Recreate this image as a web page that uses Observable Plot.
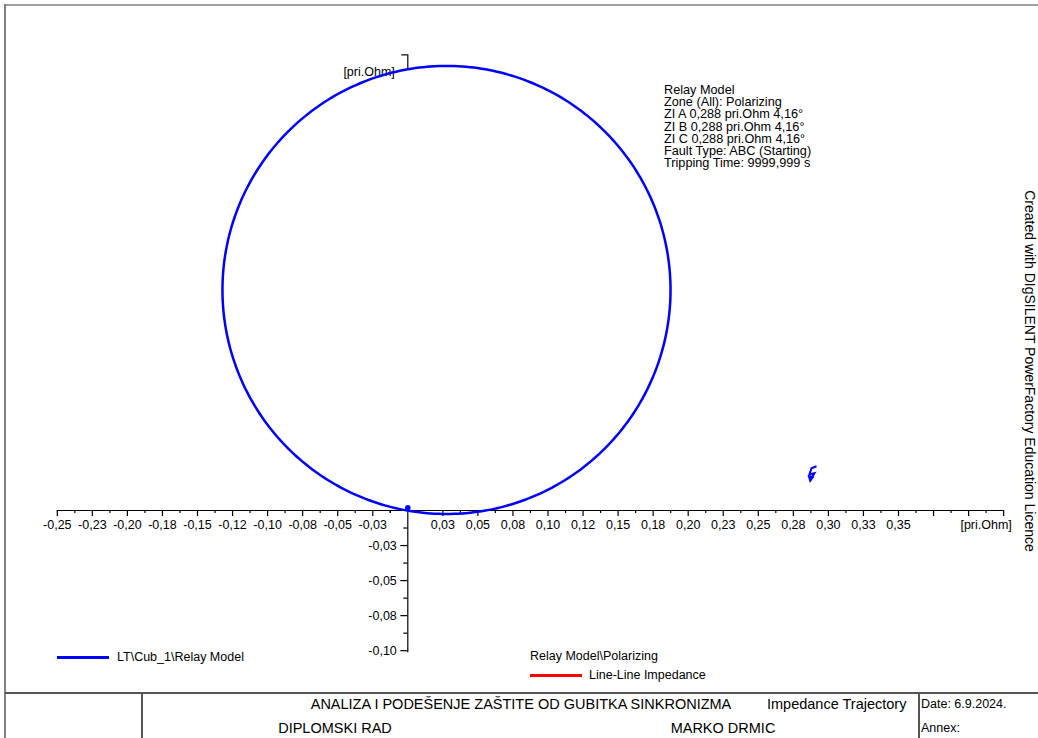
<!DOCTYPE html>
<html>
<head>
<meta charset="utf-8">
<script src="https://cdn.jsdelivr.net/npm/d3@7"></script>
<script src="https://cdn.jsdelivr.net/npm/@observablehq/plot@0.6"></script>
<style>
  html, body { margin: 0; padding: 0; background: #fff; }
  #root { position: relative; width: 1038px; height: 738px; overflow: hidden; font-family: "Liberation Sans", Arial, sans-serif; color: #000; }
  #root svg { position: absolute; left: 0; top: 0; }
  .t { position: absolute; white-space: nowrap; line-height: 16px; }
  .ln { position: absolute; }
</style>
</head>
<body>
<div id="root"></div>
<script>
// ---------- data ----------
// Mho (polarizing) characteristic: centre and radius, in pri.Ohm (R, X)
const mhoCenterR = 0.0276;
const mhoCenterX = 0.1573;
const mhoRadius = 0.1598;
// Measured impedance ZI (magnitude in pri.Ohm, angle in degrees)
const ziMagnitude = 0.288;
const ziAngleDeg = 4.16;
// Trajectory start point near the origin
const trajR = [0.0];
const trajX = [0.002];
// Axis ticks
const xTickValues = [-0.25,-0.225,-0.2,-0.175,-0.15,-0.125,-0.1,-0.075,-0.05,-0.025,
                     0.025,0.05,0.075,0.1,0.125,0.15,0.175,0.2,0.225,0.25,0.275,0.3,0.325,0.35];
const xTickLabels = ["-0,25","-0,23","-0,20","-0,18","-0,15","-0,12","-0,10","-0,08","-0,05","-0,03",
                     "0,03","0,05","0,08","0,10","0,12","0,15","0,18","0,20","0,23","0,25","0,28","0,30","0,33","0,35"];
const xExtraMajor = [0.375, 0.4, 0.425];
const yTickValues = [-0.025, -0.05, -0.075, -0.1];
const yTickLabels = ["-0,03", "-0,05", "-0,08", "-0,10"];
const xAxisExtent = [-0.25, 0.425];
const yAxisExtent = [-0.1, 0];
const yAxisTop = 0.325;
const infoLines = ["Relay Model", "Zone (All): Polarizing", "ZI A 0,288 pri.Ohm 4,16°",
  "ZI B 0,288 pri.Ohm 4,16°", "ZI C 0,288 pri.Ohm 4,16°", "Fault Type: ABC (Starting)", "Tripping Time: 9999,999 s"];
const legendRelay = "LT\\Cub_1\\Relay Model";
const legendTitle = "Relay Model\\Polarizing";
const legendLL = "Line-Line Impedance";
const unitLabel = "[pri.Ohm]";

// ---------- derived ----------
const PX = 1402;            // pixels per pri.Ohm (equal aspect)
const W = 1038, H = 738;
const originX = 407.3, originY = 510;
const xDomain = [-originX / PX, (W - originX) / PX];
const yDomain = [-(H - originY) / PX, originY / PX];

const circle = d3.range(0, 361).map(a => {
  const t = a * Math.PI / 180;
  return {x: mhoCenterR + mhoRadius * Math.cos(t), y: mhoCenterX + mhoRadius * Math.sin(t)};
});
const zi = [{x: ziMagnitude * Math.cos(ziAngleDeg * Math.PI / 180), y: ziMagnitude * Math.sin(ziAngleDeg * Math.PI / 180)}];
const traj = trajR.map((r, i) => ({x: r, y: trajX[i]}));

const xMajor = xTickValues.concat(xExtraMajor);
const xMinor = xMajor.filter(v => v < 0.42).map(v => v + 0.0125).concat([-0.0125]);
const yMinor = yTickValues.map(v => v + 0.0125);

const xTicks = xTickValues.map((v, i) => ({v, label: xTickLabels[i]}));
const yTicks = yTickValues.map((v, i) => ({v, label: yTickLabels[i]}));

const boltSymbol = {
  draw(c) { c.moveTo(6, -15); c.lineTo(1, -13); c.lineTo(-1, -7); c.lineTo(4, -8); c.lineTo(1.5, -4); }
};
const headSymbol = {
  draw(c) { c.moveTo(-2.5, -6); c.lineTo(3.5, -4.5); c.lineTo(-0.5, 1); c.closePath(); }
};

const blue = "#0000ff";
const chart = Plot.plot({
  width: W, height: H,
  margin: 0,
  x: {domain: xDomain, axis: null},
  y: {domain: yDomain, axis: null},
  style: {fontFamily: "'Liberation Sans', Arial, sans-serif", fontSize: "12.5px", background: "transparent", color: "#000"},
  marks: [
    // axes
    Plot.ruleY([0], {x1: xAxisExtent[0], x2: xAxisExtent[1], stroke: "#000", strokeWidth: 1.2}),
    Plot.ruleX([0], {y1: yAxisExtent[0] - 2 / PX, y2: yAxisExtent[1], stroke: "#000", strokeWidth: 1.2}),
    Plot.ruleX([0], {y1: yAxisTop, y2: yAxisTop - 14 / PX, stroke: "#000", strokeWidth: 1.2}),
    Plot.ruleY([yAxisTop], {x1: -6 / PX, x2: 0, stroke: "#000", strokeWidth: 1.2}),
    Plot.ruleX(xMajor, {y1: 0, y2: -6 / PX, stroke: "#000", strokeWidth: 1.2}),
    Plot.ruleX(xMinor, {y1: 0, y2: -3 / PX, stroke: "#000", strokeWidth: 1.2}),
    Plot.ruleY(yTickValues, {x1: -7 / PX, x2: 0, stroke: "#000", strokeWidth: 1.2}),
    Plot.ruleY(yMinor, {x1: -4 / PX, x2: 0, stroke: "#000", strokeWidth: 1.2}),
    Plot.text(xTicks, {x: "v", y: 0, text: "label", dy: 14, fontSize: 12.5, fill: "#000"}),
    Plot.text(yTicks, {x: 0, y: "v", text: "label", dx: -11, textAnchor: "end", fontSize: 12.5, fill: "#000"}),
    Plot.text([unitLabel], {x: xAxisExtent[1] - 0.0125, y: 0, text: d => d, dy: 14, fontSize: 12.5, fill: "#000"}),
    Plot.text([unitLabel], {x: 0, y: yAxisTop, text: d => d, dx: -13, dy: 17, textAnchor: "end", fontSize: 12.5, fill: "#000"}),
    // mho circle
    Plot.line(circle, {x: "x", y: "y", stroke: blue, strokeWidth: 2.5}),
    // trajectory start
    Plot.dot(traj, {x: "x", y: "y", r: 2, fill: blue, stroke: blue}),
    // measured impedance marker
    Plot.dot(zi, {x: "x", y: "y", symbol: boltSymbol, stroke: blue, strokeWidth: 2, fill: "none"}),
    Plot.dot(zi, {x: "x", y: "y", symbol: headSymbol, fill: blue, stroke: blue, strokeWidth: 0.8})
  ]
});

const root = document.getElementById("root");
root.appendChild(chart);

function addText(txt, left, cy, size, opts = {}) {
  const d = document.createElement("div");
  d.className = "t";
  d.textContent = txt;
  d.style.fontSize = size + "px";
  const lh = opts.lh || 16;
  d.style.lineHeight = lh + "px";
  d.style.top = (cy - lh / 2) + "px";
  d.style.left = left + "px";
  if (opts.center) d.style.transform = "translateX(-50%)";
  root.appendChild(d);
  return d;
}
function addLine(left, top, w, h, color) {
  const d = document.createElement("div");
  d.className = "ln";
  Object.assign(d.style, {left: left + "px", top: top + "px", width: w + "px", height: h + "px", background: color});
  root.appendChild(d);
}

// info block
infoLines.forEach((s, i) => addText(s, 664, 90 + i * 12.2, 12.7, {lh: 12}));

// legends
addLine(57, 656, 52, 2.5, blue);
addText(legendRelay, 117, 657, 12.5);
addText(legendTitle, 530, 656, 12.5);
addLine(530, 674, 52, 2.5, "#ff0000");
addText(legendLL, 589, 675, 12.5);

// frame
addLine(5, 4, 1033, 2, "#a0a0a0");
addLine(4, 4, 2, 734, "#808080");
addLine(5, 692, 1033, 2, "#555");
addLine(141, 693, 1.5, 45, "#555");
addLine(918, 693, 1.5, 45, "#555");

// footer
addText("ANALIZA I PODEŠENJE ZAŠTITE OD GUBITKA SINKRONIZMA", 521, 704, 14.5, {center: true});
addText("Impedance Trajectory", 767, 704, 14.5);
addText("Date: 6.9.2024.", 921, 704, 12.5);
addText("DIPLOMSKI RAD", 335, 728, 14.5, {center: true});
addText("MARKO DRMIC", 723, 728, 14.5, {center: true});
addText("Annex:", 921, 728, 12.5);

// vertical credit
const v = document.createElement("div");
v.className = "t";
v.textContent = "Created with DIgSILENT PowerFactory Education Licence";
Object.assign(v.style, {fontSize: "14px", left: "1030px", top: "371px", transform: "translate(-50%, -50%) rotate(90deg)", lineHeight: "16px"});
root.appendChild(v);
</script>
</body>
</html>
